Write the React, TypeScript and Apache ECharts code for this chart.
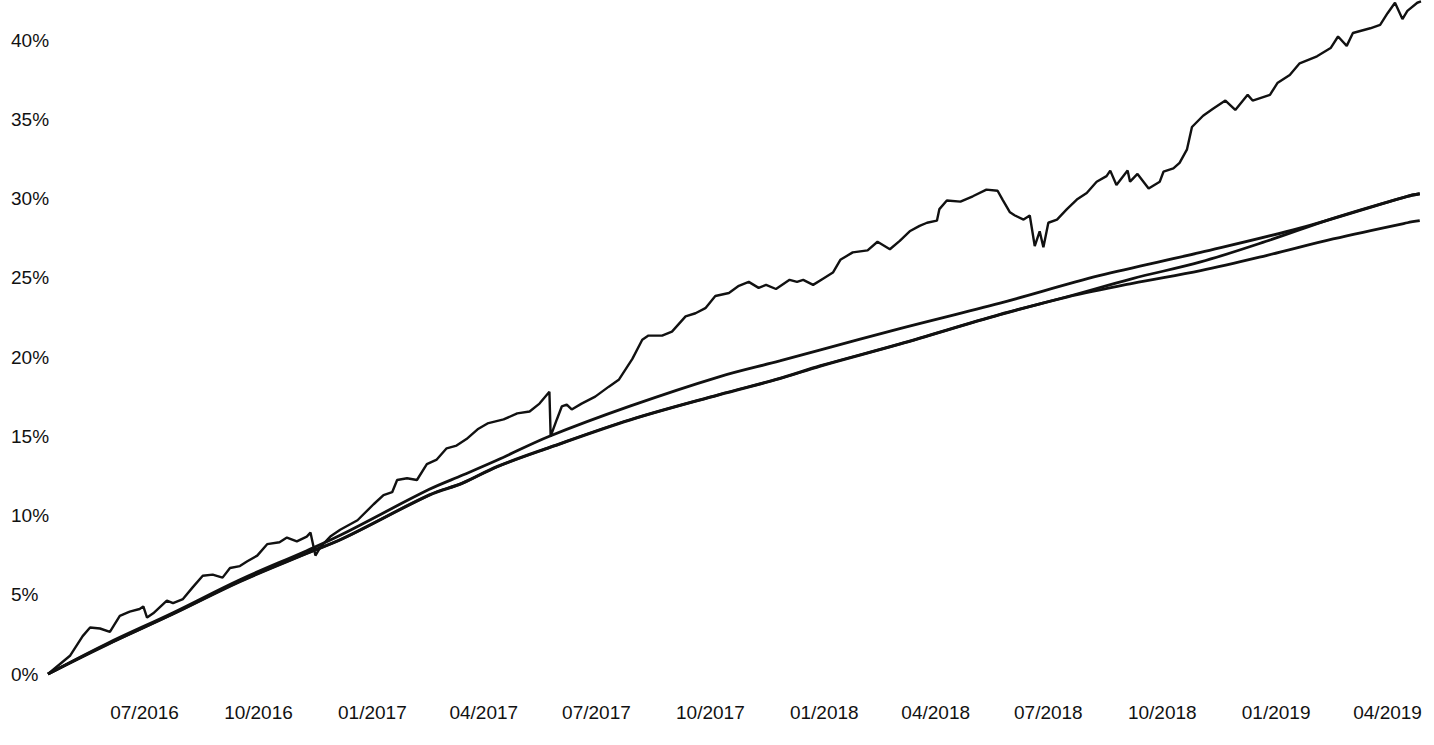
import React, { useEffect, useRef } from "react";
import * as echarts from "echarts";

const START_DATE = "2016-04-14";
const END_DATE = "2019-04-28";

const quarterTicks = [
  "2016-07-01", "2016-10-01", "2017-01-01", "2017-04-01", "2017-07-01", "2017-10-01",
  "2018-01-01", "2018-04-01", "2018-07-01", "2018-10-01", "2019-01-01", "2019-04-01",
];

const yMin = 0;
const yMax = 40;
const yStep = 5;

const wigglyLine: [string, number][] = [
  ["2016-04-14", 0], ["2016-05-02", 1.17], ["2016-05-12", 2.39], ["2016-05-18", 2.93],
  ["2016-05-26", 2.87], ["2016-06-03", 2.66], ["2016-06-11", 3.67], ["2016-06-19", 3.94],
  ["2016-06-27", 4.1], ["2016-06-30", 4.26], ["2016-07-03", 3.56], ["2016-07-08", 3.83],
  ["2016-07-19", 4.63], ["2016-07-24", 4.47], ["2016-08-01", 4.73], ["2016-08-09", 5.48],
  ["2016-08-17", 6.2], ["2016-08-25", 6.27], ["2016-09-02", 6.08], ["2016-09-08", 6.69],
  ["2016-09-16", 6.81], ["2016-09-22", 7.11], ["2016-09-30", 7.47], ["2016-10-08", 8.19],
  ["2016-10-18", 8.31], ["2016-10-24", 8.61], ["2016-11-01", 8.37], ["2016-11-09", 8.67],
  ["2016-11-12", 8.92], ["2016-11-16", 7.47], ["2016-11-20", 8.01], ["2016-11-28", 8.67],
  ["2016-12-06", 9.1], ["2016-12-20", 9.7], ["2017-01-02", 10.71], ["2017-01-10", 11.29],
  ["2017-01-17", 11.47], ["2017-01-21", 12.24], ["2017-01-29", 12.35], ["2017-02-06", 12.24],
  ["2017-02-14", 13.24], ["2017-02-22", 13.53], ["2017-03-02", 14.24], ["2017-03-10", 14.41],
  ["2017-03-18", 14.82], ["2017-03-27", 15.44], ["2017-04-04", 15.81], ["2017-04-17", 16.06],
  ["2017-04-28", 16.44], ["2017-05-08", 16.56], ["2017-05-16", 17.06], ["2017-05-24", 17.81],
  ["2017-05-25", 15.0], ["2017-05-30", 16.06], ["2017-06-03", 16.88], ["2017-06-07", 17.0],
  ["2017-06-11", 16.69], ["2017-06-19", 17.06], ["2017-06-30", 17.5], ["2017-07-11", 18.13],
  ["2017-07-19", 18.56], ["2017-07-30", 19.88], ["2017-08-07", 21.09], ["2017-08-12", 21.35],
  ["2017-08-23", 21.35], ["2017-08-31", 21.6], ["2017-09-11", 22.56], ["2017-09-19", 22.76],
  ["2017-09-27", 23.08], ["2017-10-05", 23.85], ["2017-10-16", 24.04], ["2017-10-24", 24.49],
  ["2017-11-01", 24.74], ["2017-11-09", 24.36], ["2017-11-15", 24.55], ["2017-11-23", 24.29],
  ["2017-12-04", 24.87], ["2017-12-10", 24.74], ["2017-12-15", 24.87], ["2017-12-23", 24.55],
  ["2017-12-31", 24.94], ["2018-01-08", 25.33], ["2018-01-14", 26.13], ["2018-01-24", 26.6],
  ["2018-02-05", 26.73], ["2018-02-13", 27.27], ["2018-02-23", 26.8], ["2018-03-03", 27.33],
  ["2018-03-11", 27.93], ["2018-03-19", 28.27], ["2018-03-25", 28.47], ["2018-04-02", 28.6],
  ["2018-04-04", 29.33], ["2018-04-10", 29.87], ["2018-04-21", 29.8], ["2018-05-01", 30.14],
  ["2018-05-12", 30.56], ["2018-05-21", 30.49], ["2018-05-25", 29.93], ["2018-05-31", 29.13],
  ["2018-06-04", 28.93], ["2018-06-11", 28.67], ["2018-06-16", 28.93], ["2018-06-20", 27.0],
  ["2018-06-24", 27.93], ["2018-06-27", 26.93], ["2018-07-01", 28.47], ["2018-07-08", 28.67],
  ["2018-07-16", 29.33], ["2018-07-24", 29.93], ["2018-08-01", 30.35], ["2018-08-09", 31.06],
  ["2018-08-17", 31.41], ["2018-08-20", 31.76], ["2018-08-25", 30.85], ["2018-09-03", 31.76],
  ["2018-09-05", 31.06], ["2018-09-11", 31.55], ["2018-09-20", 30.63], ["2018-09-29", 31.06],
  ["2018-10-02", 31.69], ["2018-10-10", 31.9], ["2018-10-15", 32.25], ["2018-10-21", 33.1],
  ["2018-10-25", 34.51], ["2018-11-03", 35.22], ["2018-11-11", 35.66], ["2018-11-21", 36.18],
  ["2018-11-29", 35.59], ["2018-12-09", 36.54], ["2018-12-13", 36.18], ["2018-12-27", 36.54],
  ["2019-01-02", 37.28], ["2019-01-12", 37.79], ["2019-01-20", 38.53], ["2019-02-03", 38.97],
  ["2019-02-14", 39.49], ["2019-02-20", 40.22], ["2019-02-27", 39.63], ["2019-03-04", 40.44],
  ["2019-03-18", 40.74], ["2019-03-26", 40.96], ["2019-04-01", 41.69], ["2019-04-07", 42.35],
  ["2019-04-13", 41.32], ["2019-04-17", 41.84], ["2019-04-25", 42.35], ["2019-04-28", 42.43],
];

const upperSmooth: [string, number][] = [
  ["2016-04-14", 0], ["2016-05-31", 1.9], ["2016-07-24", 3.87], ["2016-09-16", 5.95],
  ["2016-11-09", 7.78], ["2016-12-06", 8.75], ["2017-02-16", 11.65], ["2017-03-15", 12.55],
  ["2017-04-12", 13.5], ["2017-05-24", 15.0], ["2017-07-28", 16.9], ["2017-10-08", 18.75],
  ["2017-11-26", 19.75], ["2017-12-29", 20.45], ["2018-03-03", 21.79], ["2018-05-23", 23.4],
  ["2018-08-11", 25.13], ["2018-11-01", 26.6], ["2019-01-20", 28.13], ["2019-04-17", 30.14],
  ["2019-04-27", 30.3],
];

const middleSmooth: [string, number][] = [
  ["2016-04-14", 0], ["2016-05-31", 1.84], ["2016-07-24", 3.8], ["2016-09-16", 5.85],
  ["2016-11-09", 7.62], ["2016-12-08", 8.55], ["2017-02-16", 11.3], ["2017-03-15", 12.06],
  ["2017-04-12", 13.1], ["2017-05-24", 14.3], ["2017-07-28", 16.04], ["2017-10-08", 17.63],
  ["2017-11-26", 18.65], ["2017-12-29", 19.45], ["2018-03-03", 20.83], ["2018-05-23", 22.69],
  ["2018-07-16", 23.8], ["2018-09-07", 24.95], ["2018-11-01", 26.0], ["2018-12-24", 27.3],
  ["2019-02-16", 28.75], ["2019-04-17", 30.14], ["2019-04-27", 30.3],
];

const lowerSmooth: [string, number][] = [
  ["2016-04-14", 0], ["2016-05-31", 1.82], ["2016-07-24", 3.78], ["2016-09-16", 5.82],
  ["2016-11-09", 7.6], ["2016-12-08", 8.53], ["2017-02-16", 11.28], ["2017-03-15", 12.04],
  ["2017-04-12", 13.08], ["2017-05-24", 14.28], ["2017-07-28", 16.02], ["2017-10-08", 17.61],
  ["2017-11-26", 18.63], ["2017-12-29", 19.43], ["2018-03-03", 20.81], ["2018-05-23", 22.67],
  ["2018-07-16", 23.78], ["2018-09-07", 24.65], ["2018-11-01", 25.45], ["2018-12-24", 26.4],
  ["2019-02-16", 27.45], ["2019-04-17", 28.47], ["2019-04-27", 28.6],
];

const toTime = (s: string) => new Date(s + "T00:00:00").getTime();

const FONT = "'Liberation Sans', Arial, sans-serif";
const INK = "#111111";

export default function App() {
  const ref = useRef<HTMLDivElement>(null);

  useEffect(() => {
    if (!ref.current) return;
    const chart = echarts.init(ref.current, null, { renderer: "svg" });
    const mk = (name: string, data: [string, number][], smooth: boolean, width: number) => ({
      name,
      type: "line",
      data: data.map(([d, v]) => [toTime(d), v]),
      showSymbol: false,
      symbol: "none",
      smooth: smooth ? 0.35 : false,
      clip: false,
      lineStyle: { color: INK, width },
      emphasis: { disabled: true },
    });
    chart.setOption({
      animation: false,
      backgroundColor: "#ffffff",
      grid: {
        left: 48,
        right: 13,
        top: 40,
        bottom: 71,
        containLabel: false,
        outerBoundsMode: "none",
      },
      xAxis: {
        type: "value",
        min: toTime(START_DATE),
        max: toTime(END_DATE),
        axisLine: { show: false },
        axisTick: { show: false },
        splitLine: { show: false },
        axisLabel: {
          customValues: quarterTicks.map(toTime),
          margin: 29,
          fontSize: 19,
          fontFamily: FONT,
          color: INK,
          hideOverlap: false,
          formatter: (val: number) => {
            const d = new Date(val);
            return String(d.getMonth() + 1).padStart(2, "0") + "/" + d.getFullYear();
          },
        },
      },
      yAxis: {
        type: "value",
        min: yMin,
        max: yMax,
        interval: yStep,
        axisLine: { show: false },
        axisTick: { show: false },
        splitLine: { show: false },
        axisLabel: {
          formatter: "{value}%",
          align: "left",
          margin: 37,
          fontSize: 19,
          fontFamily: FONT,
          color: INK,
        },
      },
      series: [
        mk("Series A", wigglyLine, false, 2.4),
        mk("Series B", upperSmooth, true, 2.8),
        mk("Series C", middleSmooth, true, 2.8),
        mk("Series D", lowerSmooth, true, 2.8),
      ],
    });
    return () => chart.dispose();
  }, []);

  return (
    <div
      ref={ref}
      style={{ position: "absolute", left: 0, top: 0, width: 1434, height: 745, background: "#fff" }}
    />
  );
}
